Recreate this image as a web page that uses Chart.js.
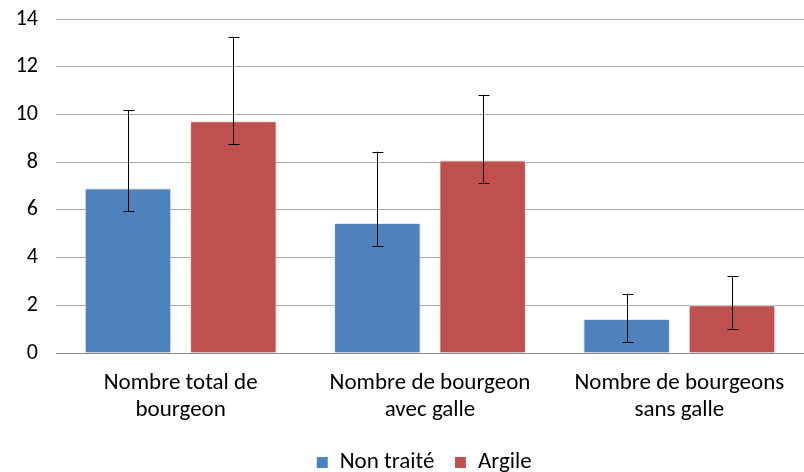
<!DOCTYPE html>
<html>
<head>
<meta charset="utf-8">
<script src="https://cdn.jsdelivr.net/npm/chart.js@4/dist/chart.umd.min.js"></script>
<style>
html,body{margin:0;padding:0;background:#fff;}
#wrap{width:804px;height:472px;}
</style>
</head>
<body>
<div id="wrap"><canvas id="c" width="804" height="472"></canvas></div>
<script>
const categories = [
  ["Nombre total de", "bourgeon"],
  ["Nombre de bourgeon", "avec galle"],
  ["Nombre de bourgeons", "sans galle"]
];
const seriesNames = ["Non traité", "Argile"];
const nonTraite = [6.9, 5.45, 1.42];
const argile = [9.71, 8.07, 2.0];
const nonTraiteErrPlus = [3.27, 2.99, 1.07];
const nonTraiteErrMinus = [0.95, 0.95, 0.96];
const argileErrPlus = [3.55, 2.76, 1.24];
const argileErrMinus = [0.95, 0.95, 0.98];
const yTicks = [0, 2, 4, 6, 8, 10, 12, 14];

const FONT = "Carlito, Calibri, 'Liberation Sans', sans-serif";

const errorBarPlugin = {
  id: 'errorBars',
  afterDatasetsDraw(chart) {
    const ctx = chart.ctx;
    const y = chart.scales.y;
    ctx.save();
    ctx.strokeStyle = '#000';
    ctx.lineWidth = 1;
    chart.data.datasets.forEach((ds, di) => {
      const meta = chart.getDatasetMeta(di);
      meta.data.forEach((bar, i) => {
        const v = ds.data[i];
        const top = y.getPixelForValue(v + ds.errPlus[i]);
        const bot = y.getPixelForValue(v - ds.errMinus[i]);
        const x = Math.round(bar.x) + 0.5;
        ctx.beginPath();
        ctx.moveTo(x, top); ctx.lineTo(x, bot);
        ctx.moveTo(x - 5, Math.round(top) + 0.5); ctx.lineTo(x + 6, Math.round(top) + 0.5);
        ctx.moveTo(x - 5, Math.round(bot) + 0.5); ctx.lineTo(x + 6, Math.round(bot) + 0.5);
        ctx.stroke();
      });
    });
    ctx.restore();
  }
};

const shadowPlugin = {
  id: 'barShadow',
  beforeDatasetsDraw(chart) {
    const ctx = chart.ctx;
    ctx.save();
    ctx.shadowColor = 'rgba(0,0,0,0.25)';
    ctx.shadowBlur = 4;
  },
  afterDatasetsDraw(chart) {
    chart.ctx.restore();
  }
};

const legendShift = {
  id: 'legendShift',
  afterLayout(chart) {
    if (chart.legend) { chart.legend.left += 18; chart.legend.right += 18; }
  }
};

new Chart(document.getElementById('c'), {
  type: 'bar',
  data: {
    labels: categories,
    datasets: [
      { label: seriesNames[0], data: nonTraite, errPlus: nonTraiteErrPlus, errMinus: nonTraiteErrMinus,
        backgroundColor: '#4F81BD', borderColor: '#ffffff', borderWidth: 1 },
      { label: seriesNames[1], data: argile, errPlus: argileErrPlus, errMinus: argileErrMinus,
        backgroundColor: '#C0504D', borderColor: '#ffffff', borderWidth: 1 }
    ]
  },
  options: {
    responsive: false,
    animation: false,
    devicePixelRatio: 1,
    layout: { padding: { left: 0, right: -8, top: 19, bottom: -12 } },
    categoryPercentage: 0.845,
    barPercentage: 0.82,
    plugins: {
      legend: {
        position: 'bottom',
        labels: {
          boxWidth: 12, boxHeight: 12, padding: 20,
          color: '#000',
          font: { family: FONT, size: 23 }
        }
      },
      tooltip: { enabled: false }
    },
    scales: {
      x: {
        grid: { display: false, drawTicks: false },
        border: { display: true, color: '#898989', width: 1 },
        ticks: { color: '#000', font: { family: FONT, size: 23, lineHeight: 1.17 }, padding: 17, maxRotation: 0 },
        afterFit(scale) { scale.height = 78; scale.paddingLeft = 0; scale.paddingRight = 0; }
      },
      y: {
        min: 0, max: 14,
        afterBuildTicks(scale) { scale.ticks = yTicks.map(v => ({ value: v })); },
        grid: { color: '#a6a6a6', lineWidth: 1, drawTicks: false },
        border: { display: false },
        ticks: { color: '#000', font: { family: FONT, size: 22 }, padding: 18 },
        afterFit(scale) { scale.width = 56; scale.paddingTop = 0; scale.paddingBottom = 0; }
      }
    }
  },
  plugins: [shadowPlugin, errorBarPlugin, legendShift]
});
</script>
</body>
</html>
